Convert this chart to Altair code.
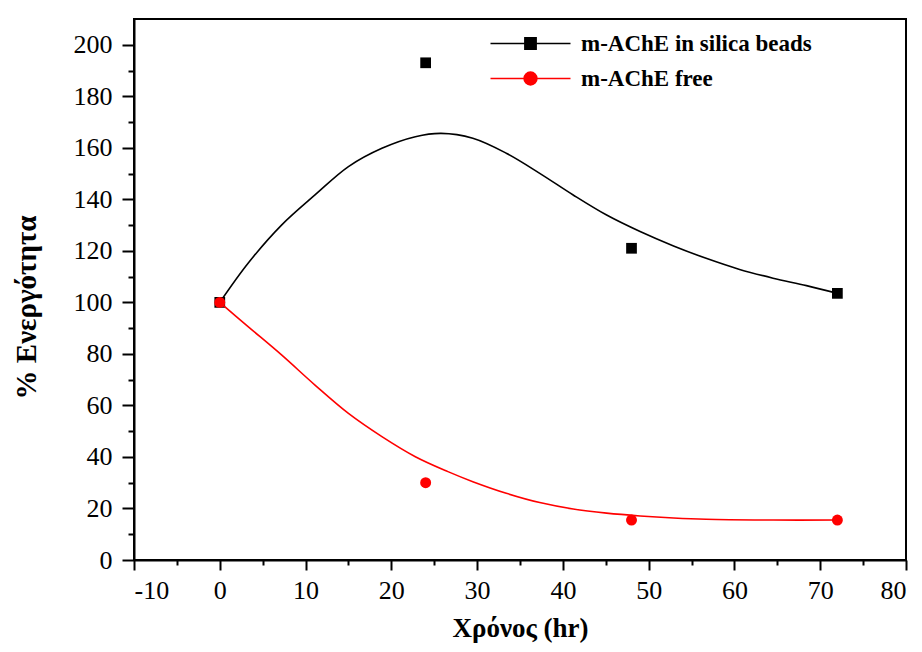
import altair as alt
import pandas as pd

# ---- data ----
series_names = ["m-AChE in silica beads", "m-AChE free"]
series_colors = ["black", "red"]

time_points = [0, 24, 48, 72]
silica_values = [100, 193, 121, 103.5]
free_values = [100, 30, 15.5, 15.5]

# fitted (smooth) curves as drawn in the reference
silica_curve_x = [0, 3.3, 7.2, 11.1, 15.0, 18.9, 22.8, 25.8, 29.5, 33.4, 37.3, 41.2,
                  45.1, 49.0, 52.9, 56.7, 60.6, 64.5, 68.4, 72]
silica_curve_y = [100, 115.2, 130.0, 141.7, 152.7, 159.8, 164.3, 165.6, 163.7, 157.9,
                  150.1, 141.7, 133.9, 127.5, 121.9, 117.1, 112.8, 109.4, 106.5, 103.5]
free_curve_x = [0, 3.3, 7.2, 11.1, 15.0, 18.9, 22.8, 26.6, 29.5, 33.4, 37.3, 41.2,
                45.1, 49.0, 52.9, 56.7, 64.5, 72]
free_curve_y = [100, 90.6, 79.6, 67.9, 56.9, 47.9, 40.1, 34.3, 30.4, 25.9, 22.3, 19.8,
                18.2, 17.1, 16.3, 15.8, 15.5, 15.5]

x_major = list(range(-10, 81, 10))
x_minor = list(range(-5, 80, 10))
y_major = list(range(0, 201, 20))
y_minor = list(range(10, 200, 20))

# ---- tables ----
silica_pts = pd.DataFrame({"time": time_points, "activity": silica_values, "series": series_names[0]})
free_pts = pd.DataFrame({"time": time_points, "activity": free_values, "series": series_names[1]})
silica_curve = pd.DataFrame({"time": silica_curve_x, "activity": silica_curve_y})
free_curve = pd.DataFrame({"time": free_curve_x, "activity": free_curve_y})
all_pts = pd.concat([silica_pts, free_pts], ignore_index=True)

FONT = "Liberation Serif"

def xs():
    return alt.Scale(domain=[-10, 80], nice=False, zero=False)

def ys():
    return alt.Scale(domain=[0, 210], nice=False, zero=False)

x_main = alt.X("time:Q", scale=xs(),
               axis=alt.Axis(orient="bottom", values=x_major, title="Χρόνος (hr)",
                             labelExpr="toString(datum.value)", tickSize=10,
                             labelFont=FONT, labelFontSize=26, labelColor="black",
                             titleFontSize=27,
                             labelPadding=7, titlePadding=12, grid=False))
y_main = alt.Y("activity:Q", scale=ys(),
               axis=alt.Axis(orient="left", values=y_major, title="% Ενεργότητα",
                             tickSize=12,
                             labelFont=FONT, labelFontSize=26, labelColor="black",
                             labelPadding=10, titlePadding=32, titleY=288, grid=False))
x_min = alt.X("time:Q", scale=xs(),
              axis=alt.Axis(orient="bottom", values=x_minor, title=None, labels=False,
                            domain=False, tickSize=5, grid=False))
y_min = alt.Y("activity:Q", scale=ys(),
              axis=alt.Axis(orient="left", values=y_minor, title=None, labels=False,
                            domain=False, tickSize=6, grid=False))
x_plain = alt.X("time:Q", scale=xs(), axis=None)
y_plain = alt.Y("activity:Q", scale=ys(), axis=None)

black_line = alt.Chart(silica_curve).mark_line(color="black", strokeWidth=1.6,
                                               interpolate="catmull-rom").encode(x=x_main, y=y_main)
black_pts = alt.Chart(silica_pts).mark_point(shape="square", filled=True, color="black",
                                             size=115, opacity=1).encode(x=x_min, y=y_min)
red_line = alt.Chart(free_curve).mark_line(color="red", strokeWidth=1.6,
                                           interpolate="catmull-rom").encode(x=x_plain, y=y_plain)
red_pts = alt.Chart(free_pts).mark_point(shape="circle", filled=True, color="red",
                                         size=120, opacity=1).encode(x=x_plain, y=y_plain)

# legend: line with marker in the middle (custom symbol paths)
sq_path = "M-5,0H5M-0.7,-0.7H0.7V0.7H-0.7Z"
circ_path = "M-5,0H5M0.8,0A0.8,0.8,0,1,1,-0.8,0A0.8,0.8,0,1,1,0.8,0Z"
leg = alt.Legend(title=None, orient="none", legendX=385, legendY=13,
                 labelFont=FONT, labelFontWeight="bold", labelFontSize=23, labelColor="black",
                 labelLimit=0,
                 symbolSize=256, symbolStrokeWidth=1.6, labelOffset=39, rowPadding=11,
                 padding=0, symbolOpacity=1)
legend_layer = alt.Chart(all_pts).transform_filter("false").mark_point(filled=True, opacity=1).encode(
    x=x_plain, y=y_plain,
    fill=alt.Fill("series:N", scale=alt.Scale(domain=series_names, range=series_colors), legend=leg),
    stroke=alt.Stroke("series:N", scale=alt.Scale(domain=series_names, range=series_colors), legend=leg),
    shape=alt.Shape("series:N", scale=alt.Scale(domain=series_names, range=[sq_path, circ_path]), legend=leg),
)

chart = alt.layer(black_line, black_pts, red_line, red_pts, legend_layer).resolve_scale(
    x="independent", y="independent"
).properties(
    width=772, height=541,
    autosize=alt.AutoSizeParams(type="none"),
    padding={"left": 126, "top": 11, "right": 8, "bottom": 84},
).configure(font=FONT).configure_view(stroke="black", strokeWidth=2).configure_axis(
    labelFont=FONT, labelFontSize=26, labelColor="black",
    titleFont=FONT, titleFontSize=29, titleFontWeight="bold", titleColor="black",
    domainColor="black", domainWidth=2, tickColor="black", tickWidth=2,
)

chart.save("out.html", embed_options={"renderer": "svg", "actions": False})
